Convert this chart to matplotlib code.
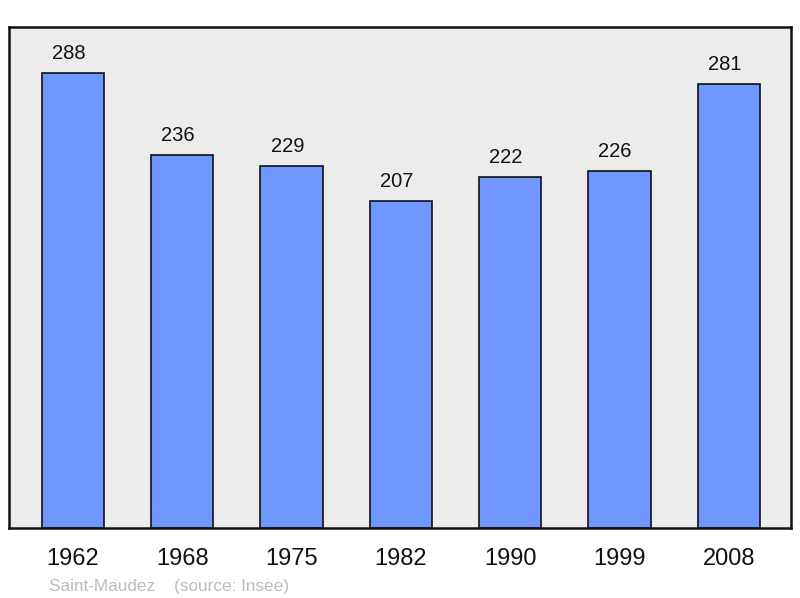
import numpy as np
import matplotlib.pyplot as plt

years = ['1962', '1968', '1975', '1982', '1990', '1999', '2008']
population = [288, 236, 229, 207, 222, 226, 281]

plt.rcParams['font.family'] = ['Liberation Sans', 'DejaVu Sans']

fig = plt.figure(figsize=(8, 5.98), dpi=100)
ax = fig.add_axes([9 / 800, 1 - 528 / 598, 782 / 800, 501 / 598])
ax.set_facecolor('#ececec')

x = np.arange(len(years))
bars = ax.bar(x, population, width=0.57, color='#7096ff', edgecolor='#111111',
              linewidth=1.2, zorder=2)

for xi, v in zip(x, population):
    # value labels sit a little left of the bar centre in the original
    ax.annotate(str(v), (xi, v), xytext=(-3, 14), textcoords='offset points',
                ha='center', va='center', fontsize=14.5, color='#111111')
    ax.annotate(years[xi], (xi, 0), xytext=(0, -22.5), textcoords='offset points',
                ha='center', va='center', fontsize=17, color='#111111',
                annotation_clip=False)

ax.set_xlim(-0.585, 6.57)
ax.set_ylim(0, 317)
ax.set_xticks([])
ax.set_yticks([])
for s in ax.spines.values():
    s.set_linewidth(1.8)
    s.set_color('#111111')

fig.text(49 / 800, 1 - 586 / 598, 'Saint-Maudez    (source: Insee)',
         fontsize=12.3, color='#bbbbbb', va='center', ha='left')

fig.savefig('out.png', dpi=100)
